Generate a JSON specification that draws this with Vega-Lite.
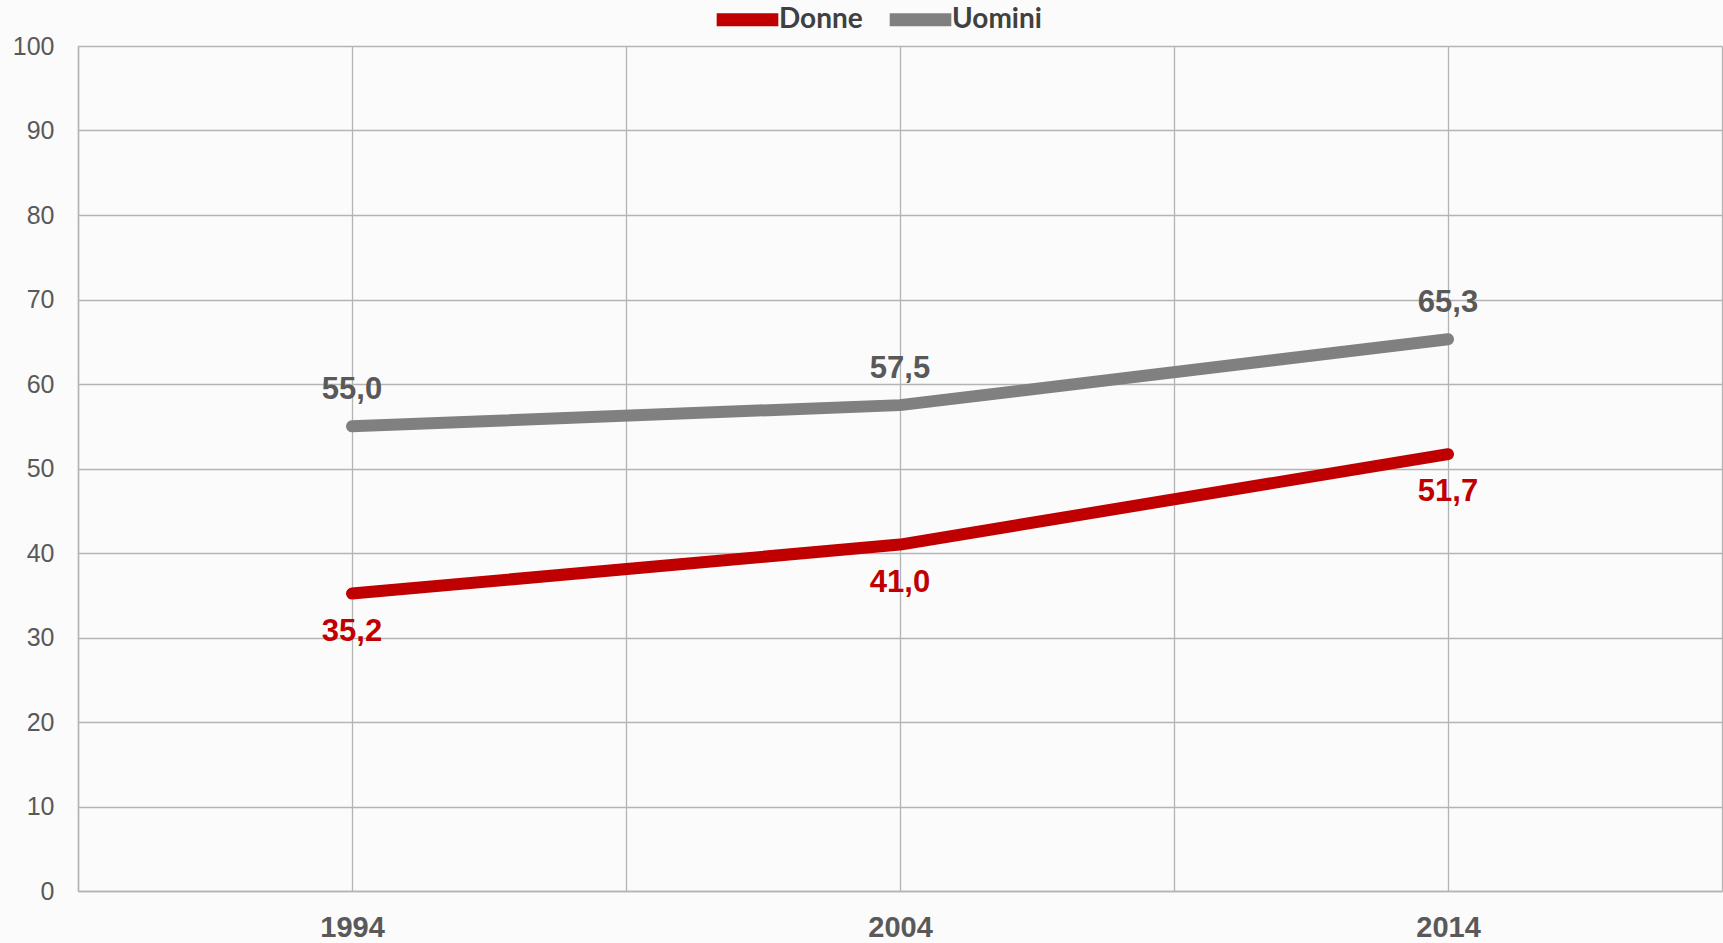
{
  "$schema": "https://vega.github.io/schema/vega-lite/v6.json",
  "width": 1644,
  "height": 845,
  "autosize": {"type": "none"},
  "padding": {"left": 78, "top": 46, "right": 1, "bottom": 52},
  "background": "#fbfbfb",
  "config": {
    "locale": {"number": {"decimal": ",", "thousands": ".", "grouping": [3], "currency": ["", " €"]}},
    "view": {"stroke": null},
    "font": "Liberation Sans"
  },
  "data": {
    "values": [
      {"anno": 1994, "serie": "Donne", "valore": 35.2},
      {"anno": 2004, "serie": "Donne", "valore": 41.0},
      {"anno": 2014, "serie": "Donne", "valore": 51.7},
      {"anno": 1994, "serie": "Uomini", "valore": 55.0},
      {"anno": 2004, "serie": "Uomini", "valore": 57.5},
      {"anno": 2014, "serie": "Uomini", "valore": 65.3}
    ]
  },
  "encoding": {
    "x": {
      "field": "anno", "type": "quantitative",
      "scale": {"domain": [1989, 2019], "nice": false, "zero": false},
      "axis": {
        "title": null,
        "values": [1989, 1994, 1999, 2004, 2009, 2014, 2019],
        "labelExpr": "datum.value == 1994 || datum.value == 2004 || datum.value == 2014 ? format(datum.value, 'd') : ''",
        "format": "d",
        "grid": true, "gridColor": "#b4b4b4", "gridWidth": 1.3,
        "ticks": false, "domain": true, "domainColor": "#b4b4b4", "domainWidth": 1.5,
        "labelFont": "Liberation Sans", "labelFontSize": 29, "labelFontWeight": "bold",
        "labelColor": "#595959", "labelPadding": 22, "labelFlush": false
      }
    },
    "y": {
      "field": "valore", "type": "quantitative",
      "scale": {"domain": [0, 100], "nice": false},
      "axis": {
        "title": null, "values": [0, 10, 20, 30, 40, 50, 60, 70, 80, 90, 100],
        "grid": true, "gridColor": "#b4b4b4", "gridWidth": 1.3,
        "ticks": false, "domain": true, "domainColor": "#b4b4b4", "domainWidth": 1.5,
        "labelFont": "Liberation Sans", "labelFontSize": 25, "labelColor": "#595959",
        "labelPadding": 24
      }
    },
    "color": {
      "field": "serie", "type": "nominal",
      "scale": {"domain": ["Donne", "Uomini"], "range": ["#c00000", "#808080"]}
    }
  },
  "layer": [
    {
      "mark": {"type": "line", "strokeWidth": 12, "strokeCap": "round", "strokeJoin": "round"},
      "encoding": {
        "color": {
          "field": "serie", "type": "nominal",
          "scale": {"domain": ["Donne", "Uomini"], "range": ["#c00000", "#808080"]},
          "legend": {
            "title": null, "orient": "none", "direction": "horizontal",
            "legendX": 632, "legendY": -64,
            "symbolType": "stroke", "symbolSize": 3800, "symbolStrokeWidth": 13,
            "labelFont": "Lato", "labelFontSize": 28, "labelFontWeight": "bold",
            "labelColor": "#404040", "labelOffset": -6, "columnPadding": 0,
            "symbolOffset": 0
          }
        }
      }
    },
    {
      "transform": [{"filter": "datum.serie == 'Uomini'"}],
      "mark": {"type": "text", "dy": -36, "fontSize": 31, "fontWeight": "bold", "font": "Liberation Sans", "color": "#595959"},
      "encoding": {"text": {"field": "valore", "type": "quantitative", "format": ".1f"}, "color": {"value": "#595959"}}
    },
    {
      "transform": [{"filter": "datum.serie == 'Donne'"}],
      "mark": {"type": "text", "dy": 38, "fontSize": 31, "fontWeight": "bold", "font": "Liberation Sans", "color": "#c00000"},
      "encoding": {"text": {"field": "valore", "type": "quantitative", "format": ".1f"}, "color": {"value": "#c00000"}}
    }
  ]
}
